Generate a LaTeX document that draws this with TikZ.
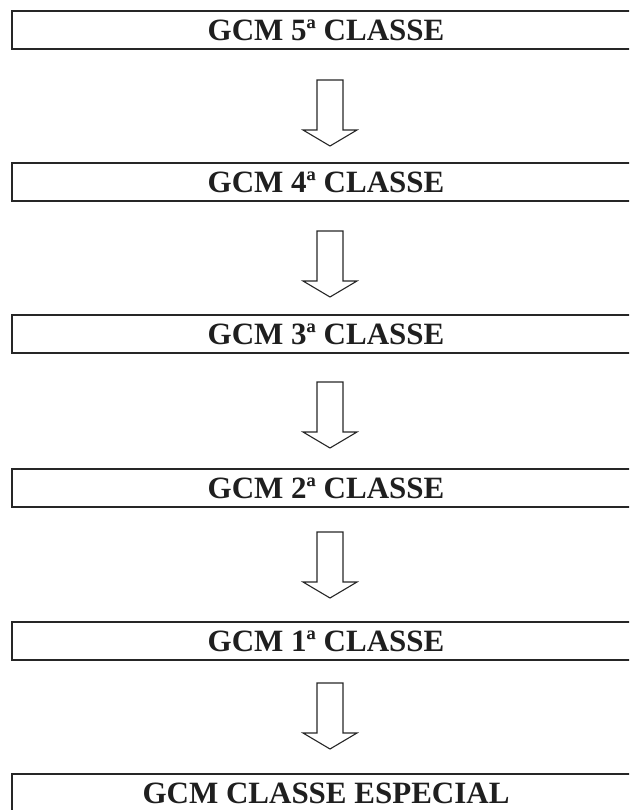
\documentclass[tikz,border=0pt]{standalone}
\usepackage{fontspec}
\setmainfont{Liberation Serif}
\begin{document}
\begin{tikzpicture}[x=1pt,y=1pt,
  classbox/.style={draw=black!85,line width=1.4pt,rectangle,minimum width=628pt,minimum height=38pt,inner sep=0pt,
    font=\fontsize{31}{31}\selectfont\bfseries,text=black!88},
  arrowline/.style={draw=black!85,line width=1.1pt,line join=miter},
  bigarrow/.pic={\path[arrowline] (-13,0) -- (-13,-50) -- (-27,-50) -- (0,-66) -- (27,-50) -- (13,-50) -- (13,0) -- cycle;}]
\useasboundingbox (0,0) rectangle (629,-810);
\clip (0,0) rectangle (629,-810);
\node[classbox] (c5) at (326,-30) {GCM 5ª CLASSE};
\node[classbox] (c4) at (326,-182) {GCM 4ª CLASSE};
\node[classbox] (c3) at (326,-334) {GCM 3ª CLASSE};
\node[classbox] (c2) at (326,-488) {GCM 2ª CLASSE};
\node[classbox] (c1) at (326,-641) {GCM 1ª CLASSE};
\node[classbox,minimum height=42pt] (ce) at (326,-795) {\raisebox{3pt}{GCM CLASSE ESPECIAL}};
\pic (a1) at (330,-80) {bigarrow};
\pic (a2) at (330,-231) {bigarrow};
\pic (a3) at (330,-382) {bigarrow};
\pic (a4) at (330,-532) {bigarrow};
\pic (a5) at (330,-683) {bigarrow};
\end{tikzpicture}
\end{document}
